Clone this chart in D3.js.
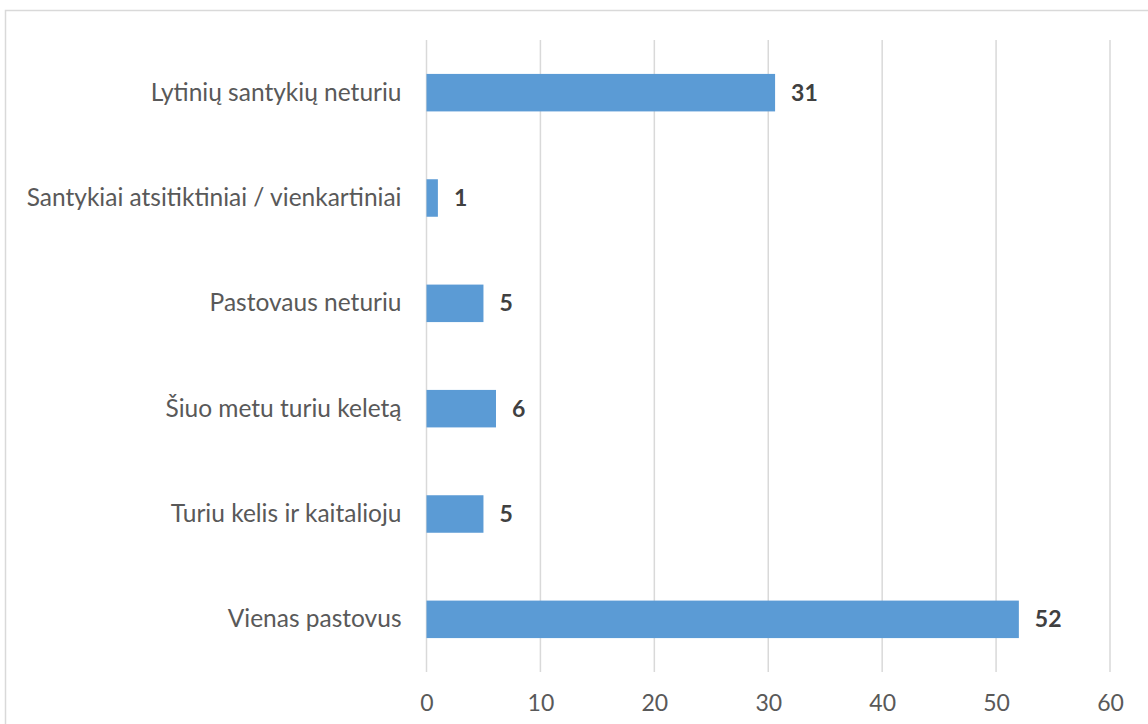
<!DOCTYPE html>
<html>
<head>
<meta charset="utf-8">
<script src="https://cdn.jsdelivr.net/npm/d3@7"></script>
<style>
  body { margin: 0; background: #fff; }
  svg { display: block; }
</style>
</head>
<body>
<div id="chart"></div>
<script>
const categories = [
    "Lytinių santykių neturiu",
    "Santykiai atsitiktiniai / vienkartiniai",
    "Pastovaus neturiu",
    "Šiuo metu turiu keletą",
    "Turiu kelis ir kaitalioju",
    "Vienas pastovus"
];
const values = [30.6, 1, 5, 6.1, 5, 52];
const valueLabels = ["31", "1", "5", "6", "5", "52"];
const xTicks = [0, 10, 20, 30, 40, 50, 60];

const W = 1148, H = 724;
const plotLeft = 426.5, plotRight = 1110, plotTop = 40, plotBottom = 672;
const font = "Lato, 'Open Sans', sans-serif";

const svg = d3.select("#chart").append("svg")
    .attr("width", W).attr("height", H);

// chart border
svg.append("rect")
    .attr("x", 5.5).attr("y", 10.5)
    .attr("width", W + 10).attr("height", H + 10)
    .attr("fill", "none").attr("stroke", "#d9d9d9").attr("stroke-width", 1.5);

const x = d3.scaleLinear().domain([0, 60]).range([plotLeft, plotRight]);
const y = d3.scaleBand().domain(categories).range([plotTop, plotBottom]).paddingInner(0.644).paddingOuter(0.322);

// gridlines
svg.append("g").selectAll("line")
    .data(xTicks)
    .join("line")
    .attr("x1", d => x(d)).attr("x2", d => x(d))
    .attr("y1", plotTop).attr("y2", plotBottom)
    .attr("stroke", "#d9d9d9").attr("stroke-width", 1.5);

// x axis labels
const xAxis = svg.append("g").attr("transform", `translate(0,${plotBottom})`)
    .call(d3.axisBottom(x).tickValues(xTicks).tickSize(0).tickPadding(23));
xAxis.select(".domain").remove();
xAxis.selectAll("text")
    .attr("fill", "#595959").style("font-family", font).style("font-size", "23px");

// y axis labels
const yAxis = svg.append("g").attr("transform", `translate(${plotLeft},0)`)
    .call(d3.axisLeft(y).tickSize(0).tickPadding(25));
yAxis.select(".domain").remove();
yAxis.selectAll("text")
    .attr("fill", "#595959").style("font-family", font).style("font-size", "24.5px");

// bars
svg.append("g").selectAll("rect")
    .data(categories)
    .join("rect")
    .attr("x", x(0))
    .attr("y", d => y(d))
    .attr("width", (d, i) => x(values[i]) - x(0))
    .attr("height", y.bandwidth())
    .attr("fill", "#5b9bd5");

// value labels
svg.append("g").selectAll("text")
    .data(categories)
    .join("text")
    .attr("x", (d, i) => x(values[i]) + 16)
    .attr("y", d => y(d) + y.bandwidth() / 2)
    .attr("dy", "0.35em")
    .attr("fill", "#404040")
    .style("font-family", font).style("font-size", "23px").style("font-weight", "bold")
    .text((d, i) => valueLabels[i]);
</script>
</body>
</html>
